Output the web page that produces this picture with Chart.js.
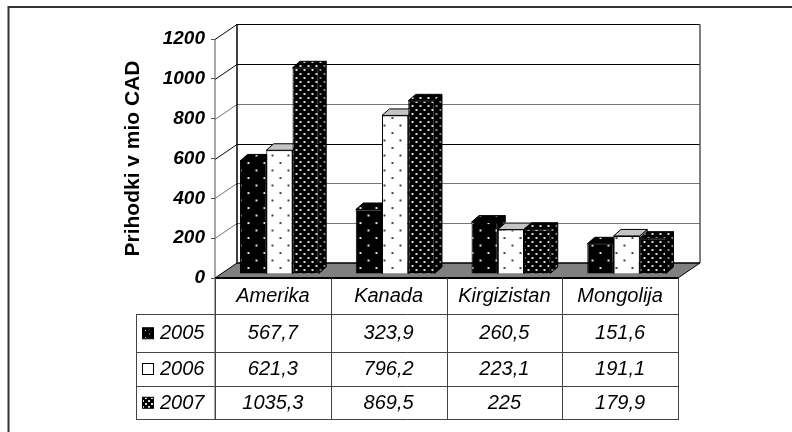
<!DOCTYPE html>
<html>
<head>
<meta charset="utf-8">
<style>
html,body{margin:0;padding:0;background:#fff}
#wrap{width:792px;height:432px;position:relative}
</style>
<script src="https://cdn.jsdelivr.net/npm/chart.js@4"></script>
</head>
<body>
<div id="wrap"><canvas id="c" width="792" height="432"></canvas></div>
<script>
const categories = ['Amerika', 'Kanada', 'Kirgizistan', 'Mongolija'];
const seriesNames = ['2005', '2006', '2007'];
const values2005 = [567.7, 323.9, 260.5, 151.6];
const values2006 = [621.3, 796.2, 223.1, 191.1];
const values2007 = [1035.3, 869.5, 225, 179.9];
const yTicks = [0, 200, 400, 600, 800, 1000, 1200];

const FONT = '"Liberation Sans", Arial, sans-serif';
const WALL = { dx: 22, dy: -15 };     // depth of the chart box
const SHIFT = { dx: 6.5, dy: -4 };    // bars stand slightly behind the front edge
const BAR = { dx: 7.5, dy: -6.5 };    // depth of a single bar
const ROWS = [314, 351.5, 385.5, 419]; // table row boundaries
const TABLE_LEFT = 136;

// Dotted fill: staggered dots on a square tile
function dotted(bg, fg, w, h, size) {
  const t = document.createElement('canvas');
  t.width = w; t.height = h;
  const g = t.getContext('2d');
  g.fillStyle = bg; g.fillRect(0, 0, w, h);
  g.fillStyle = fg;
  g.fillRect(1, 1, size, size);
  g.fillRect(1 + w / 2, 1 + h / 2, size, size);
  return document.createElement('canvas').getContext('2d').createPattern(t, 'repeat');
}
const front = [
  dotted('#000', '#e4e4e4', 16, 15, 2),
  dotted('#fff', '#444', 16, 15, 2),
  dotted('#000', '#e0e0e0', 8, 8, 2)
];
const side = [
  dotted('#000', '#888', 16, 15, 2),
  dotted('#aaa', '#444', 16, 15, 2),
  dotted('#000', '#888', 8, 8, 2)
];
const topFace = [front[0], '#c4c4c4', front[2]];
const keyFill = [dotted('#000', '#ddd', 8, 7, 1), '#fff', dotted('#000', '#ddd', 6, 6, 2)];

function line(ctx, pts, color, width) {
  ctx.beginPath();
  pts.forEach((p, i) => i ? ctx.lineTo(p[0], p[1]) : ctx.moveTo(p[0], p[1]));
  ctx.strokeStyle = color;
  ctx.lineWidth = width;
  ctx.stroke();
}
function poly(ctx, pts, fill) {
  ctx.beginPath();
  pts.forEach((p, i) => i ? ctx.lineTo(p[0], p[1]) : ctx.moveTo(p[0], p[1]));
  ctx.closePath();
  ctx.fillStyle = fill;
  ctx.fill();
  ctx.strokeStyle = '#000';
  ctx.lineWidth = 1;
  ctx.stroke();
}

const box3d = {
  id: 'box3d',
  // Page frame, floor, walls, gridlines, then the bars' top and side faces
  beforeDatasetsDraw(chart) {
    const { ctx, chartArea: a, scales: { y } } = chart;
    const base = Math.round(y.getPixelForValue(0));
    const top = Math.round(y.getPixelForValue(1200));
    ctx.save();
    line(ctx, [[8.5, 432], [8.5, 7], [792, 7]], '#333', 2);

    yTicks.forEach(v => {
      const py = Math.round(y.getPixelForValue(v)) + 0.5;
      if (v > 0) {
        const shade = (v === 800 || v === 400 || v === 200) ? '#777' : '#000';
        line(ctx, [[a.left, py], [a.left + WALL.dx, py + WALL.dy], [a.right + WALL.dx, py + WALL.dy]], shade, 1);
      }
    });
    line(ctx, [[a.left + WALL.dx, top + WALL.dy], [a.left + WALL.dx, base + WALL.dy]], '#000', 1.5);
    line(ctx, [[a.right + WALL.dx, top + WALL.dy + .5], [a.right + WALL.dx, base + WALL.dy]], '#555', 1.5);
    line(ctx, [[a.left, top + .5], [a.left, 419]], '#555', 1);

    ctx.beginPath();
    ctx.moveTo(a.left, base);
    ctx.lineTo(a.left + WALL.dx, base + WALL.dy);
    ctx.lineTo(a.right + WALL.dx, base + WALL.dy);
    ctx.lineTo(a.right, base);
    ctx.closePath();
    ctx.fillStyle = '#808080';
    ctx.fill();
    line(ctx, [[a.left + WALL.dx, base + WALL.dy], [a.right + WALL.dx, base + WALL.dy]], '#000', 1.5);
    line(ctx, [[a.left, base], [a.left + WALL.dx, base + WALL.dy]], '#000', 1);
    line(ctx, [[a.right, base], [a.right + WALL.dx, base + WALL.dy]], '#000', 1);
    line(ctx, [[a.left, base], [a.right, base]], '#000', 2);

    // Depth faces go down left to right; every front face is painted afterwards
    ctx.translate(SHIFT.dx, SHIFT.dy);
    seriesNames.forEach((_, i) => {
      chart.getDatasetMeta(i).data.forEach(b => {
        const l = b.x - b.width / 2, r = b.x + b.width / 2;
        poly(ctx, [[r, b.y], [r + BAR.dx, b.y + BAR.dy], [r + BAR.dx, b.base + BAR.dy], [r, b.base]], side[i]);
        poly(ctx, [[l, b.y], [l + BAR.dx, b.y + BAR.dy], [r + BAR.dx, b.y + BAR.dy], [r, b.y]], topFace[i]);
      });
    });
    ctx.restore();
  },
  beforeDatasetDraw(chart) {
    chart.ctx.save();
    chart.ctx.translate(SHIFT.dx, SHIFT.dy);
  },
  afterDatasetDraw(chart) {
    chart.ctx.restore();
  },
  // Data table under the plot
  afterDraw(chart) {
    const { ctx, chartArea: a, scales: { x } } = chart;
    const series = [values2005, values2006, values2007];
    ctx.save();
    const cols = categories.map((_, i) => x.getPixelForTick(i));
    const step = cols[1] - cols[0];
    const gridColor = '#444';
    ROWS.forEach(r => line(ctx, [[TABLE_LEFT, Math.round(r) + .5], [a.right + .5, Math.round(r) + .5]], gridColor, 1));
    line(ctx, [[TABLE_LEFT + .5, ROWS[0]], [TABLE_LEFT + .5, ROWS[3] + 1]], gridColor, 1);
    line(ctx, [[a.left + .5, a.bottom], [a.left + .5, ROWS[3] + 1]], gridColor, 1);
    cols.forEach(c => {
      const e = Math.round(c + step / 2) + .5;
      line(ctx, [[e, a.bottom], [e, ROWS[3] + 1]], gridColor, 1);
    });

    ctx.font = `italic 20px ${FONT}`;
    ctx.fillStyle = '#000';
    ctx.textBaseline = 'middle';
    seriesNames.forEach((name, r) => {
      const mid = (ROWS[r] + ROWS[r + 1]) / 2 + 1;
      ctx.fillStyle = keyFill[r];
      ctx.fillRect(142.5, mid - 6, 11, 11);
      ctx.strokeStyle = '#000';
      ctx.lineWidth = 1;
      ctx.strokeRect(142.5, mid - 6, 11, 11);
      ctx.fillStyle = '#000';
      ctx.textAlign = 'left';
      ctx.fillText(name, 160, mid);
      ctx.textAlign = 'center';
      series[r].forEach((v, c) => ctx.fillText(String(v).replace('.', ','), cols[c], mid));
    });
    ctx.restore();
  }
};

new Chart(document.getElementById('c'), {
  type: 'bar',
  data: {
    labels: categories,
    datasets: [
      { label: seriesNames[0], data: values2005, backgroundColor: front[0] },
      { label: seriesNames[1], data: values2006, backgroundColor: front[1] },
      { label: seriesNames[2], data: values2007, backgroundColor: front[2] }
    ].map(d => Object.assign(d, { borderColor: '#000', borderWidth: 1, clip: false }))
  },
  options: {
    responsive: false,
    animation: false,
    events: [],
    layout: { padding: { left: 0, top: 39, right: 114, bottom: 0 } },
    datasets: { bar: { categoryPercentage: 0.68, barPercentage: 1 } },
    plugins: { legend: { display: false }, tooltip: { enabled: false }, title: { display: false } },
    scales: {
      x: {
        afterFit(s) { s.height = 154; },
        grid: { display: false },
        border: { display: false },
        ticks: { color: '#000', padding: -2, maxRotation: 0, font: { family: FONT, size: 20, style: 'italic' } }
      },
      y: {
        min: 0, max: 1200,
        afterFit(s) { s.width = 215; },
        afterBuildTicks(s) { s.ticks = yTicks.map(v => ({ value: v })); },
        grid: { drawOnChartArea: false, color: '#555', tickLength: 4 },
        border: { display: false },
        ticks: {
          color: '#000', padding: 6,
          font: { family: FONT, size: 19, style: 'italic', weight: 'bold' },
          callback: v => String(v)
        },
        title: {
          display: true, text: 'Prihodki v mio CAD', color: '#000',
          padding: { top: 121, bottom: 0 },
          font: { family: FONT, size: 21, weight: 'bold' }
        }
      }
    }
  },
  plugins: [box3d]
});
</script>
</body>
</html>
